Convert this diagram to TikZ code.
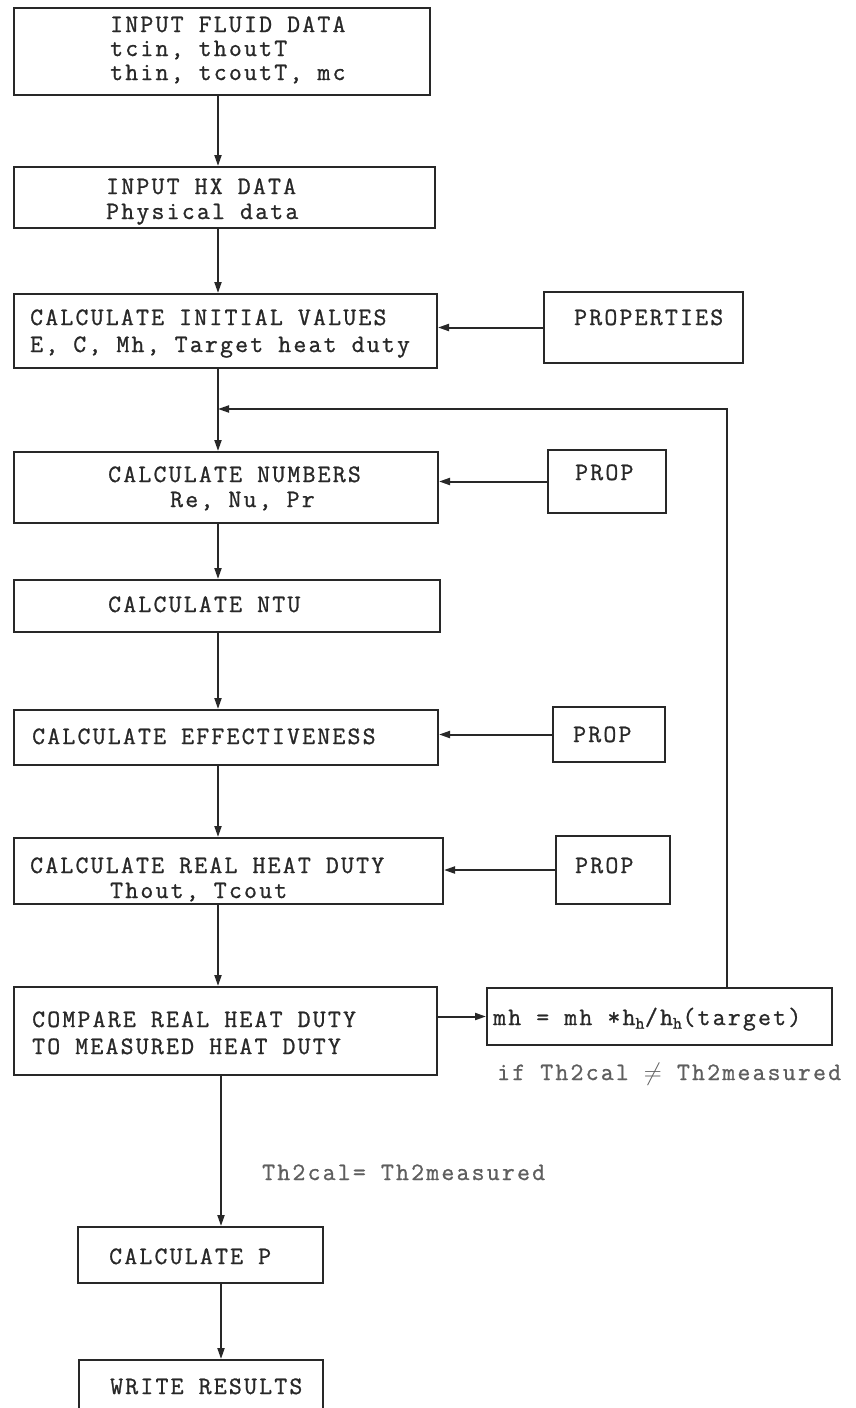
\documentclass[tikz,border=0pt]{standalone}
\usepackage{fontspec}
\usetikzlibrary{arrows.meta,calc}
\newfontfamily\tw[LetterSpace=9,FakeBold=1.0]{Latin Modern Mono}
\definecolor{ink}{RGB}{40,40,40}
\tikzset{
  box/.style={draw=ink, line width=2pt, rectangle, inner sep=0pt},
  lbl/.style={anchor=base west, inner sep=0pt, text=ink, font=\tw\fontsize{25}{28}\selectfont},
  note/.style={anchor=base west, inner sep=0pt, text=ink!75, font=\tw\fontsize{25}{28}\selectfont},
  arr/.style={draw=ink, line width=2pt, -{Triangle[length=11pt,width=7pt]}}
}
\begin{document}
\begin{tikzpicture}[x=1pt,y=-1pt]
\useasboundingbox (0,0) rectangle (855,1408);
\clip (0,0) rectangle (855,1408);
\coordinate (spine) at (218,0);
\coordinate (col2) at (221,0);
\coordinate (fbx) at (727,0);
% boxes
\node[box, minimum width=416pt, minimum height=87pt] (b1) at (222,51.5) {};
\node[box, minimum width=421pt, minimum height=61pt] (b2) at (224.5,197.5) {};
\node[box, minimum width=423pt, minimum height=74pt] (b3) at (225.5,331) {};
\node[box, minimum width=199pt, minimum height=71pt] (pr) at (643.5,327.5) {};
\node[box, minimum width=424pt, minimum height=71pt] (b4) at (226,487.5) {};
\node[box, minimum width=118pt, minimum height=63pt] (p4) at (607,481.5) {};
\node[box, minimum width=426pt, minimum height=52pt] (b5) at (227,606) {};
\node[box, minimum width=424pt, minimum height=55pt] (b6) at (226,737.5) {};
\node[box, minimum width=112pt, minimum height=55pt] (p6) at (609,734.5) {};
\node[box, minimum width=429pt, minimum height=66pt] (b7) at (228.5,871) {};
\node[box, minimum width=114pt, minimum height=68pt] (p7) at (613,870) {};
\node[box, minimum width=423pt, minimum height=88pt] (b8) at (225.5,1031) {};
\node[box, minimum width=345pt, minimum height=57pt] (mh) at (659.5,1016.5) {};
\node[box, minimum width=245pt, minimum height=56pt] (b9) at (200.5,1255) {};
\node[box, minimum width=244pt, minimum height=60pt] (b10) at (201,1390) {};
% texts
\node[lbl] (t1a) at (110,32) {INPUT FLUID DATA};
\node[lbl] (t1b) at (110,56) {tcin, thoutT};
\node[lbl] (t1c) at (110,80) {thin, tcoutT, mc};
\node[lbl] (t2a) at (106,194) {INPUT HX DATA};
\node[lbl] (t2b) at (106,219) {Physical data};
\node[lbl] (t3a) at (30,325) {CALCULATE INITIAL VALUES};
\node[lbl] (t3b) at (30,352) {E, C, Mh, Target heat duty};
\node[lbl] (tpr) at (574,325) {PROPERTIES};
\node[lbl] (t4a) at (108,482) {CALCULATE NUMBERS};
\node[lbl] (t4b) at (170,507) {Re, Nu, Pr};
\node[lbl] (tp4) at (575,480) {PROP};
\node[lbl] (t5) at (108,612) {CALCULATE NTU};
\node[lbl] (t6) at (32,744) {CALCULATE EFFECTIVENESS};
\node[lbl] (tp6) at (573,742) {PROP};
\node[lbl] (t7a) at (30,873) {CALCULATE REAL HEAT DUTY};
\node[lbl] (t7b) at (110,898) {Thout, Tcout};
\node[lbl] (tp7) at (575,873) {PROP};
\node[lbl] (t8a) at (32,1027) {COMPARE REAL HEAT DUTY};
\node[lbl] (t8b) at (32,1054) {TO MEASURED HEAT DUTY};
\node[lbl] (tmh) at (493,1025) {mh = mh *h\textsubscript{h}/h\textsubscript{h}(target)};
\node[note] (tne) at (497,1080) {if Th2cal $\neq$ Th2measured};
\node[note] (teq) at (262,1180) {Th2cal= Th2measured};
\node[lbl] (t9) at (109,1264) {CALCULATE P};
\node[lbl] (t10) at (110,1394) {WRITE RESULTS};
% connectors
\draw[arr] (b1.south -| spine) -- (b2.north -| spine);
\draw[arr] (b2.south -| spine) -- (b3.north -| spine);
\draw[arr] (pr.west) -- (b3.east |- pr.west);
\draw[arr] (b3.south -| spine) -- (b4.north -| spine);
\coordinate (fb) at ($(spine)+(0,409)$);
\draw[arr] (mh.north -| fbx) |- (fb);
\draw[arr] (p4.west) -- (b4.east |- p4.west);
\draw[arr] (b4.south -| spine) -- (b5.north -| spine);
\draw[arr] (b5.south -| spine) -- (b6.north -| spine);
\draw[arr] (p6.west) -- (b6.east |- p6.west);
\draw[arr] (b6.south -| spine) -- (b7.north -| spine);
\draw[arr] (p7.west) -- (b7.east |- p7.west);
\draw[arr] (b7.south -| spine) -- (b8.north -| spine);
\draw[arr] (b8.east |- mh.west) -- (mh.west);
\draw[arr] (b8.south -| col2) -- (b9.north -| col2);
\draw[arr] (b9.south -| col2) -- (b10.north -| col2);
\end{tikzpicture}
\end{document}
